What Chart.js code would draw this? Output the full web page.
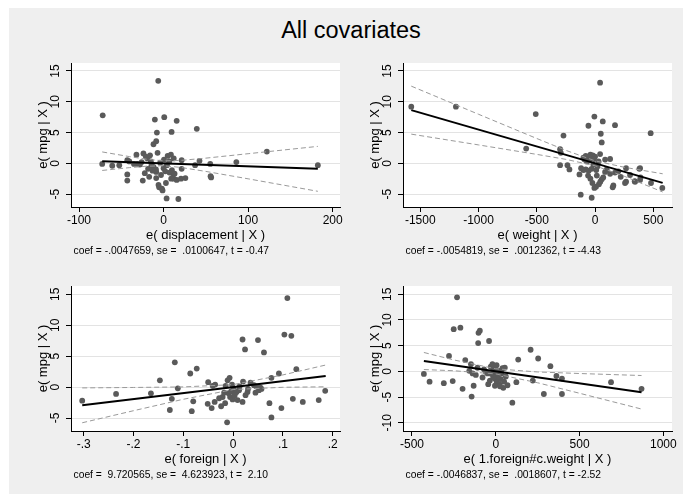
<!DOCTYPE html>
<html><head><meta charset="utf-8">
<script src="https://cdn.jsdelivr.net/npm/chart.js@4.4.1/dist/chart.umd.min.js"></script>
<style>
body{margin:0;background:#fff;width:683px;height:501px;position:relative;overflow:hidden;font-family:"Liberation Sans",Arial,sans-serif;}
#bg{position:absolute;left:9px;top:8px;width:674px;height:486px;background:#efefef;}
#title{position:absolute;left:201px;width:300px;top:18.5px;text-align:center;font-size:23.5px;line-height:1;color:#000;white-space:nowrap;}
canvas{position:absolute;}
</style></head><body>
<div id="bg"></div>
<div id="title">All covariates</div>
<canvas id="c1" width="331" height="208" style="left:19px;top:55px"></canvas>
<canvas id="c2" width="331" height="208" style="left:351px;top:55px"></canvas>
<canvas id="c3" width="331" height="209" style="left:19px;top:278px"></canvas>
<canvas id="c4" width="331" height="209" style="left:351px;top:278px"></canvas>
<script>
// ---------- data ----------
const yTitle = "e( mpg | X )";

// Panel 1: displacement
const dispX = [-72,-72.6,-60.7,-52.4,-42.9,-40.5,-42.9,-42.9,-32.1,-31,-28,-24.6,-23.8,-21,-22.2,-18.3,-17,-14.3,-11.9,-10.3,-8.7,-7.9,-8.7,-8.7,-7.1,-6.3,-6,-5.2,-2,-1.2,0.8,0,2.8,3.6,4.8,6.7,8.7,9.5,9.9,10.7,11.9,15.5,15.5,17.5,20.6,21.4,21.4,25.8,37.3,39.3,42.5,55.2,55.6,56.3,86.1,122.2,182.5,-15,-12,-9,-4,-13,-19,4,12,2,-3,7,-26,-16,13,9,-35,0.5];
const dispY = [7.8,-0.1,-0.4,-0.3,0.5,0.3,-1.8,-2.8,1.4,-0.1,-0.2,-2.8,1.6,1.1,-1.6,-0.9,-2.2,-0.3,3.1,7.1,3.6,5.0,-1.4,-2.4,1.7,13.4,-3.5,-3.9,-4.1,-4.4,7.5,-0.8,-3.2,-5.7,1.2,0.3,1.4,5.1,-1.1,-1.6,-2.5,6.9,-2.7,-5.8,-2.5,0.5,-0.9,-2.4,-0.3,5.6,0.4,-0.1,-2.1,-2.3,0.2,1.9,-0.3,0.3,-0.6,-1.0,0.1,-1.2,0.8,-0.3,0.8,-1.3,-1.9,-1.5,0.2,1.3,-1.7,-2.5,-0.1,0.6];
const dispFitX = [-72.6, 182.5];
const dispFitY = [0.35, -0.87];
const dispBandX = [-72.6,-40,-20,0,20,50,100,182.5];
const dispBandU = [1.85,1.08,0.66,0.40,0.47,0.84,1.56,2.75];
const dispBandL = [-1.16,-0.70,-0.47,-0.40,-0.66,-1.32,-2.52,-4.55];

// Panel 2: weight
const wtX = [-1577,-1194,-591,-509,-300,-294,-271,-300,-237,-220,-134,-123,-29,-57,-6,43,49,57,66,43,171,157,266,266,257,343,386,386,477,480,577,-100,-80,-60,-40,-20,0,-90,-50,-10,-70,86,129,-100,-80,-55,-30,10,-23,-6,8,33,45,57,86,129,171,151,340,380,390,200,20,-40,70,100,-15,30,-120,220,15,-60,300];
const wtY = [9.2,9.2,2.4,8.0,2.3,1.7,4.5,-0.3,-0.3,-1.0,-1.8,-5.1,-5.6,6.1,7.6,13.1,4.8,3.4,6.8,1.5,6.2,-3.6,-0.8,-3.0,-3.2,-3.0,-0.8,-2.7,4.9,-3.2,-4.0,0.9,1.2,1.0,1.4,1.3,1.1,0.6,0.5,0.7,0.3,0.6,0.7,-1.1,-1.0,-1.2,-0.9,-1.1,-3.2,-4.0,-3.8,-3.4,-3.0,-2.6,-1.4,-1.7,-1.5,-3.9,-2.9,-0.9,-2.3,-1.3,-0.5,-2.5,-2.3,-1.0,-0.2,0.3,-0.8,-2.2,-2.0,-2.0,-1.9];
const wtFitX = [-1577, 580];
const wtFitY = [8.64, -3.18];
const wtBandX = [-1577,-1000,-500,-250,0,250,580];
const wtBandU = [12.54,7.97,4.03,2.10,0.40,-0.64,-1.70];
const wtBandL = [4.74,2.99,1.45,0.64,-0.40,-2.10,-4.66];

// Panel 3: foreign
const forX = [-0.303,-0.235,-0.165,-0.147,-0.123,-0.127,-0.117,-0.111,-0.086,-0.083,-0.080,-0.073,-0.051,-0.050,-0.043,-0.041,-0.037,-0.036,-0.024,-0.021,-0.016,-0.015,-0.012,-0.011,-0.007,-0.009,-0.006,-0.004,-0.001,0.001,0.004,0.007,0.009,0.019,0.019,0.020,0.024,0.025,0.029,0.035,0.042,0.045,0.050,0.052,0.055,0.057,0.062,0.073,0.077,0.077,0.092,0.097,0.103,0.109,0.117,0.120,0.127,0.140,0.172,0.185,-0.002,0.012,-0.018,0.03,0.013,-0.028,0.003,0.047];
const forY = [-2.2,-1.1,-1.0,1.1,-1.9,-3.7,4.0,-0.2,2.2,-3.9,-2.3,3.0,-2.7,0.8,-3.4,0.2,-2.4,0.4,-3.1,-1.6,-2.6,0.2,-5.7,1.1,1.5,-1.0,-1.6,-0.7,-2.0,-0.2,-1.0,-0.8,-2.1,7.7,-2.4,0.9,6.1,-1.3,-0.8,0.7,0.3,-0.9,7.6,-0.5,-0.1,-0.3,5.6,-2.6,1.5,-4.9,2.2,-3.4,8.5,14.4,8.3,-1.9,2.9,-2.4,-2.1,-0.6,0.4,-0.5,-0.9,-0.3,0.1,-1.8,-1.4,0.1];
const forFitX = [-0.303, 0.186];
const forFitY = [-2.95, 1.81];
const forBandX = [-0.303,-0.2,-0.1,0,0.1,0.186];
const forBandU = [-0.13,-0.06,0.03,0.40,1.97,3.57];
const forBandL = [-5.77,-3.82,-1.97,-0.40,-0.03,0.05];

// Panel 4: 1.foreign#c.weight
const fwX = [-429,-395,-310,-279,-257,-251,-231,-211,-198,-182,-158,-148,-144,-138,-132,-119,-105,-103,-95,-109,-79,-45,-40,-49,-30,-20,-14,-10,-6,-2,6,14,22,30,40,50,54,60,70,-25,-12,0,10,20,-35,45,99,123,134,208,221,253,287,326,362,395,395,688,870,-5,25,-60,5,35,-15,-70];
const fwY = [-0.5,-2.0,-2.3,3.0,-1.9,8.2,14.4,8.5,-3.4,2.2,0.1,1.4,-4.9,-0.4,-2.8,-0.7,5.5,7.5,7.9,0.7,-1.2,-2.5,5.9,-0.4,0.9,1.4,0.5,-0.2,-0.9,-1.5,-2.0,-0.7,-2.5,-1.5,0.6,-2.0,0.7,-1.0,-2.7,-0.5,1.0,0.2,-1.1,0.1,-1.8,-3.2,-6.1,-2.1,2.3,4.2,-1.8,2.5,-4.4,1.0,-0.9,-1.4,-4.4,-2.1,-3.4,-2.8,-2.9,-0.1,1.2,-0.4,-1.2,0.4];
const fwFitX = [-429, 870];
const fwFitY = [2.01, -4.07];
const fwBandX = [-429,-250,0,250,500,870];
const fwBandU = [3.67,2.22,0.50,-0.12,-0.42,-0.81];
const fwBandL = [0.35,0.12,-0.50,-2.22,-4.26,-7.33];

// tick values and labels
const yTicksA = [-5,0,5,10,15];
const yTicksB = [-10,-5,0,5,10,15];
const dispTicks = [-100,0,100,200];
const dispLabels = ["-100","0","100","200"];
const wtTicks = [-1500,-1000,-500,0,500];
const wtLabels = ["-1500","-1000","-500","0","500"];
const forTicks = [-0.3,-0.2,-0.1,0,0.1,0.2];
const forLabels = ["-.3","-.2","-.1","0",".1",".2"];
const fwTicks = [-500,0,500,1000];
const fwLabels = ["-500","0","500","1000"];

// ---------- drawing ----------
const FONT = '"Liberation Sans", Arial, sans-serif';
const zip = (xs, ys) => xs.map((x, i) => ({x: x, y: ys[i]}));

const decor = {
  id: 'decor',
  beforeDraw(chart) {
    const a = chart.chartArea, ctx = chart.ctx;
    ctx.save(); ctx.fillStyle = '#ffffff';
    ctx.fillRect(a.left, a.top, a.right - a.left, a.bottom - a.top);
    ctx.restore();
  },
  afterDraw(chart, args, opts) {
    const a = chart.chartArea, ctx = chart.ctx;
    ctx.save();
    ctx.fillStyle = '#000';
    // note under the x axis title
    ctx.font = '10.3px ' + FONT;
    ctx.textAlign = 'left'; ctx.textBaseline = 'middle';
    ctx.fillText(opts.note, a.left + 2.5, a.bottom + 44);
    // y axis title, rotated, centred on the plot region
    ctx.font = '13px ' + FONT;
    ctx.translate(a.left - 27.5, (a.top + a.bottom) / 2);
    ctx.rotate(-Math.PI / 2);
    ctx.textAlign = 'center'; ctx.textBaseline = 'middle';
    ctx.fillText(opts.yTitle, 0, 0);
    ctx.restore();
  }
};

function panel(id, p) {
  const yLab = p.yTicks;
  new Chart(document.getElementById(id), {
    type: 'scatter',
    plugins: [decor],
    data: { datasets: [
      {data: zip(p.fitX, p.fitY), showLine: true, borderColor: '#000', borderWidth: 2, pointRadius: 0, order: 1},
      {data: zip(p.bandX, p.bandU), showLine: true, borderColor: '#9a9a9a', borderWidth: 1, borderDash: [5,3], pointRadius: 0, order: 2},
      {data: zip(p.bandX, p.bandL), showLine: true, borderColor: '#9a9a9a', borderWidth: 1, borderDash: [5,3], pointRadius: 0, order: 3},
      {data: zip(p.x, p.y), pointRadius: 2.9, pointBackgroundColor: '#5a5a5a', pointBorderWidth: 0, order: 4}
    ]},
    options: {
      responsive: false, animation: false, devicePixelRatio: 1,
      layout: {padding: {top: 8, right: 10, bottom: 20, left: 0}},
      plugins: {legend: {display: false}, tooltip: {enabled: false}, decor: {note: p.note, yTitle: yTitle}},
      scales: {
        x: {
          type: 'linear', min: p.xMin, max: p.xMax,
          afterBuildTicks: s => { s.ticks = p.xTicks.map(v => ({value: v})); },
          afterFit: s => { s.height = 36; s.paddingLeft = 0; s.paddingRight = 0; },
          ticks: {autoSkip: false, maxRotation: 0, minRotation: 0, padding: 1.5, color: '#000',
                  font: {family: FONT, size: 12},
                  callback: (v, i) => p.xLabels[i]},
          grid: {drawOnChartArea: false, tickLength: 5, tickColor: '#000', tickWidth: 1},
          border: {display: true, color: '#000', width: 1},
          title: {display: true, text: p.xTitle, color: '#000', font: {family: FONT, size: 13}, padding: {top: 0, bottom: 0.2}}
        },
        y: {
          type: 'linear', min: p.yMin, max: p.yMax,
          afterBuildTicks: s => { s.ticks = yLab.map(v => ({value: v})); },
          afterFit: s => { s.width = 52; s.paddingTop = 0; s.paddingBottom = 0; },
          ticks: {autoSkip: false, minRotation: 90, maxRotation: 90, crossAlign: 'center', padding: p.yPad, color: '#000',
                  font: {family: FONT, size: 12},
                  callback: v => String(v)},
          grid: {color: '#e3e3e3', lineWidth: 1, tickLength: 5, tickColor: '#000', tickWidth: 1},
          border: {display: true, color: '#000', width: 1},
          title: {display: false}
        }
      }
    }
  });
}

panel('c1', {x: dispX, y: dispY, fitX: dispFitX, fitY: dispFitY, bandX: dispBandX, bandU: dispBandU, bandL: dispBandL,
  xMin: -109.5, xMax: 208.7, yMin: -7.1, yMax: 16.3, xTicks: dispTicks, xLabels: dispLabels, yTicks: yTicksA, yPad: 4,
  xTitle: "e( displacement | X )", note: "coef = -.0047659, se =  .0100647, t = -0.47"});
panel('c2', {x: wtX, y: wtY, fitX: wtFitX, fitY: wtFitY, bandX: wtBandX, bandU: wtBandU, bandL: wtBandL,
  xMin: -1648, xMax: 660, yMin: -7.1, yMax: 16.3, xTicks: wtTicks, xLabels: wtLabels, yTicks: yTicksA, yPad: 4,
  xTitle: "e( weight | X )", note: "coef = -.0054819, se =  .0012362, t = -4.43"});
panel('c3', {x: forX, y: forY, fitX: forFitX, fitY: forFitY, bandX: forBandX, bandU: forBandU, bandL: forBandL,
  xMin: -0.3255, xMax: 0.2147, yMin: -7.1, yMax: 16.35, xTicks: forTicks, xLabels: forLabels, yTicks: yTicksA, yPad: 4,
  xTitle: "e( foreign | X )", note: "coef =  9.720565, se =  4.623923, t =  2.10"});
panel('c4', {x: fwX, y: fwY, fitX: fwFitX, fitY: fwFitY, bandX: fwBandX, bandU: fwBandU, bandL: fwBandL,
  xMin: -553.6, xMax: 1051.8, yMin: -11.6, yMax: 16.6, xTicks: fwTicks, xLabels: fwLabels, yTicks: yTicksB, yPad: 2,
  xTitle: "e( 1.foreign#c.weight | X )", note: "coef = -.0046837, se =  .0018607, t = -2.52"});
</script>
</body></html>
